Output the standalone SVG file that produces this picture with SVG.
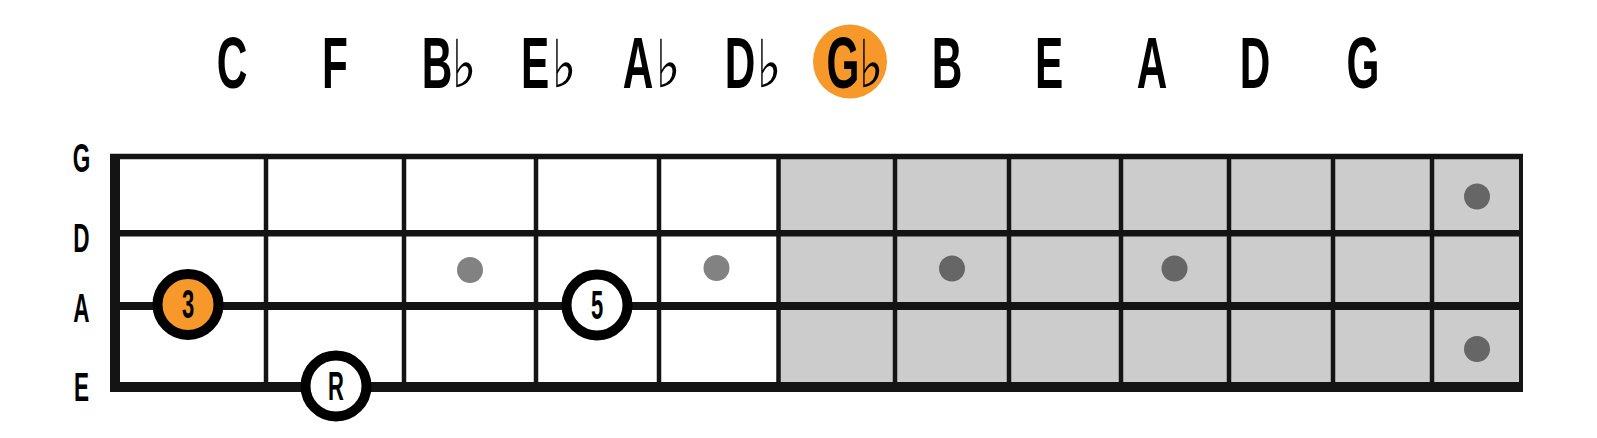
<svg xmlns="http://www.w3.org/2000/svg" width="1597" height="438" viewBox="0 0 1597 438">
<style>
.note{font-family:"Liberation Sans",Arial,sans-serif;font-weight:bold;font-size:73px;fill:#000;text-anchor:middle}
.flat{font-family:"DejaVu Sans",sans-serif;font-size:66px;fill:#000;text-anchor:middle}
.str{font-family:"Liberation Sans",Arial,sans-serif;font-weight:bold;font-size:41px;fill:#000;text-anchor:middle}
.lbl{font-family:"Liberation Sans",Arial,sans-serif;font-weight:bold;font-size:40px;fill:#000;text-anchor:middle}
.line{stroke:#141414;fill:none}
.fret{stroke:#141414;stroke-width:4.5}
.mk{stroke:#000;stroke-width:10}
.dl{fill:#828282}
.dd{fill:#666666}
</style>
<rect width="1597" height="438" fill="#ffffff"/>
<g id="notes">
<circle cx="850" cy="61.5" r="37" fill="#F6982A"/>
<text class="note" transform="translate(232,88) scale(0.58,1)">C</text>
<text class="note" transform="translate(335,88) scale(0.58,1)">F</text>
<text class="note" transform="translate(437,88) scale(0.58,1)">B</text>
<text class="flat" transform="translate(464,87) scale(0.8,1)">♭</text>
<text class="note" transform="translate(535,88) scale(0.58,1)">E</text>
<text class="flat" transform="translate(564,87) scale(0.8,1)">♭</text>
<text class="note" transform="translate(638,88) scale(0.58,1)">A</text>
<text class="flat" transform="translate(668,87) scale(0.8,1)">♭</text>
<text class="note" transform="translate(740,88) scale(0.58,1)">D</text>
<text class="flat" transform="translate(769,87) scale(0.8,1)">♭</text>
<text class="note" transform="translate(843,88) scale(0.58,1)">G</text>
<text class="flat" transform="translate(871,87) scale(0.8,1)">♭</text>
<text class="note" transform="translate(947,88) scale(0.58,1)">B</text>
<text class="note" transform="translate(1049,88) scale(0.58,1)">E</text>
<text class="note" transform="translate(1152,88) scale(0.58,1)">A</text>
<text class="note" transform="translate(1255,88) scale(0.58,1)">D</text>
<text class="note" transform="translate(1363,88) scale(0.58,1)">G</text>
</g>
<g id="string-labels">
<text class="str" transform="translate(81.5,172) scale(0.55,1)">G</text>
<text class="str" transform="translate(81.5,252) scale(0.55,1)">D</text>
<text class="str" transform="translate(81.5,322) scale(0.55,1)">A</text>
<text class="str" transform="translate(81.5,401) scale(0.55,1)">E</text>
</g>
<g id="fretboard">
<rect x="780" y="156" width="741" height="231" fill="#cccccc"/>
<line class="fret" x1="266" y1="156" x2="266" y2="387"/>
<line class="fret" x1="404" y1="156" x2="404" y2="387"/>
<line class="fret" x1="536" y1="156" x2="536" y2="387"/>
<line class="fret" x1="659" y1="156" x2="659" y2="387"/>
<line class="fret" x1="778.5" y1="156" x2="778.5" y2="387"/>
<line class="fret" x1="895" y1="156" x2="895" y2="387"/>
<line class="fret" x1="1009" y1="156" x2="1009" y2="387"/>
<line class="fret" x1="1121" y1="156" x2="1121" y2="387"/>
<line class="fret" x1="1229" y1="156" x2="1229" y2="387"/>
<line class="fret" x1="1333" y1="156" x2="1333" y2="387"/>
<line class="fret" x1="1432" y1="156" x2="1432" y2="387"/>
<line class="line" x1="110" y1="156.5" x2="1523" y2="156.5" stroke-width="5.5"/>
<line class="line" x1="110" y1="233.3" x2="1523" y2="233.3" stroke-width="6.5"/>
<line class="line" x1="110" y1="306" x2="1523" y2="306" stroke-width="8"/>
<line class="line" x1="110" y1="387" x2="1523" y2="387" stroke-width="10"/>
<line class="line" x1="115" y1="154" x2="115" y2="392" stroke-width="10"/>
<line class="line" x1="1521" y1="154" x2="1521" y2="392" stroke-width="4"/>
</g>
<g id="dots">
<circle class="dl" cx="470" cy="270" r="13"/>
<circle class="dl" cx="716.5" cy="268" r="13"/>
<circle class="dd" cx="952" cy="268.5" r="13"/>
<circle class="dd" cx="1174.5" cy="268.5" r="13"/>
<circle class="dd" cx="1477" cy="196.5" r="13"/>
<circle class="dd" cx="1477" cy="349" r="13"/>
</g>
<g id="third">
<circle class="mk" cx="188" cy="304.5" r="30.5" fill="#F6982A"/>
<text class="lbl" transform="translate(188,318) scale(0.55,1)">3</text>
</g>
<g id="fifth">
<circle class="mk" cx="597" cy="305" r="30.5" fill="#ffffff"/>
<text class="lbl" transform="translate(597,319) scale(0.55,1)">5</text>
</g>
<g id="root">
<circle class="mk" cx="336" cy="386" r="30.5" fill="#ffffff"/>
<text class="lbl" transform="translate(336,400) scale(0.55,1)">R</text>
</g>
</svg>
